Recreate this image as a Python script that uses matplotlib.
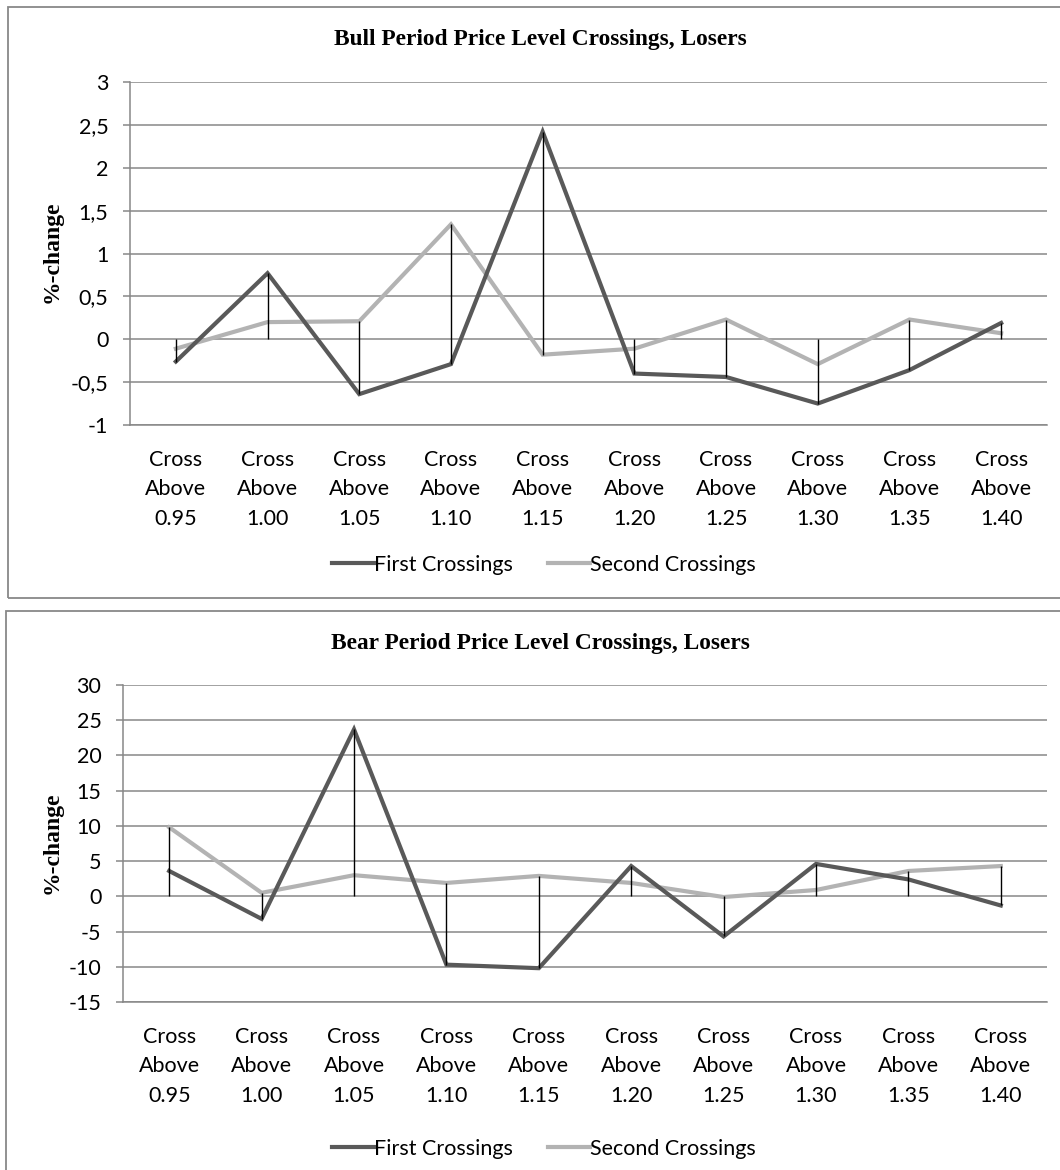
import numpy as np
import matplotlib.pyplot as plt
from matplotlib.patches import Rectangle

levels = ['0.95', '1.00', '1.05', '1.10', '1.15', '1.20', '1.25', '1.30', '1.35', '1.40']
categories = ['Cross\nAbove\n' + lv for lv in levels]

bull_first = [-0.26, 0.77, -0.64, -0.29, 2.42, -0.40, -0.44, -0.75, -0.36, 0.19]
bull_second = [-0.11, 0.20, 0.21, 1.34, -0.18, -0.11, 0.23, -0.29, 0.23, 0.07]
bull_ticks = [-1, -0.5, 0, 0.5, 1, 1.5, 2, 2.5, 3]

bear_first = [3.6, -3.2, 23.7, -9.7, -10.2, 4.3, -5.7, 4.6, 2.4, -1.3]
bear_second = [9.8, 0.5, 3.0, 1.9, 2.9, 1.9, -0.1, 0.9, 3.6, 4.3]
bear_ticks = [-15, -10, -5, 0, 5, 10, 15, 20, 25, 30]

W, H = 1060, 1170
dark = '#595959'
light = '#b3b3b3'
grid = '#878787'

fig = plt.figure(figsize=(W / 100, H / 100), dpi=100)


def fx(px):
    return px / W


def fy(py):
    return 1 - py / H


def panel(rect, box, title, title_y, ylab_y, first, second, ticks, legend_y):
    # outer chart frame
    x0, y0, x1, y1 = box
    fig.patches.append(Rectangle((fx(x0), fy(y1)), fx(x1 - x0), (y1 - y0) / H,
                                 transform=fig.transFigure, fill=False,
                                 edgecolor='#888888', linewidth=1.3))
    l, t, r, b = rect
    ax = fig.add_axes([fx(l), fy(b), fx(r - l), (b - t) / H])
    x = np.arange(len(categories))

    ax.set_ylim(ticks[0], ticks[-1])
    ax.set_yticks(ticks)
    ax.set_yticklabels([('%g' % v).replace('.', ',') for v in ticks],
                       fontfamily='Lato', fontsize=15.5)
    ax.yaxis.grid(True, color=grid, linewidth=1.1)
    ax.set_axisbelow(True)
    ax.tick_params(axis='y', length=5, color=grid, width=1.1, pad=10.5)

    ax.set_xlim(-0.5, len(categories) - 0.5)
    ax.set_xticks(x)
    ax.set_xticklabels(categories, fontfamily='Lato', fontsize=15.5, linespacing=1.58)
    ax.tick_params(axis='x', length=0, pad=18)

    for side in ['top', 'right']:
        ax.spines[side].set_visible(False)
    for side in ['left', 'bottom']:
        ax.spines[side].set_color(grid)
        ax.spines[side].set_linewidth(1.1)

    ax.plot(x, first, color=dark, linewidth=3.0, label='First Crossings',
            solid_joinstyle='miter', zorder=3)
    ax.plot(x, second, color=light, linewidth=3.0, label='Second Crossings',
            solid_joinstyle='miter', zorder=2)

    # high-low lines spanning both series and the zero line
    f = np.array(first)
    s = np.array(second)
    lo = np.minimum(np.minimum(f, s), 0)
    hi = np.maximum(np.maximum(f, s), 0)
    ax.vlines(x, lo, hi, color='black', linewidth=1.0, zorder=4)

    fig.text(fx(540), fy(title_y), title, ha='center', va='center',
             fontfamily='Liberation Serif', fontweight='bold', fontsize=16.8)
    fig.text(fx(52), fy(ylab_y), '%-change', ha='center', va='center', rotation=90,
             fontfamily='Liberation Serif', fontweight='bold', fontsize=17)

    ax.legend(loc='center', bbox_to_anchor=(fx(544), fy(legend_y)),
              bbox_transform=fig.transFigure, ncol=2, frameon=False,
              prop={'family': 'Lato', 'size': 15.5}, handlelength=1.95,
              handletextpad=0.0, columnspacing=1.6)
    return ax


panel((130, 82, 1047, 425), (8, 7, 1080, 598), 'Bull Period Price Level Crossings, Losers',
      40, 252, bull_first, bull_second, bull_ticks, 565)
panel((123, 685, 1047, 1002), (6, 611, 1080, 1190), 'Bear Period Price Level Crossings, Losers',
      643, 843, bear_first, bear_second, bear_ticks, 1149)

plt.savefig('out.png', dpi=100)
